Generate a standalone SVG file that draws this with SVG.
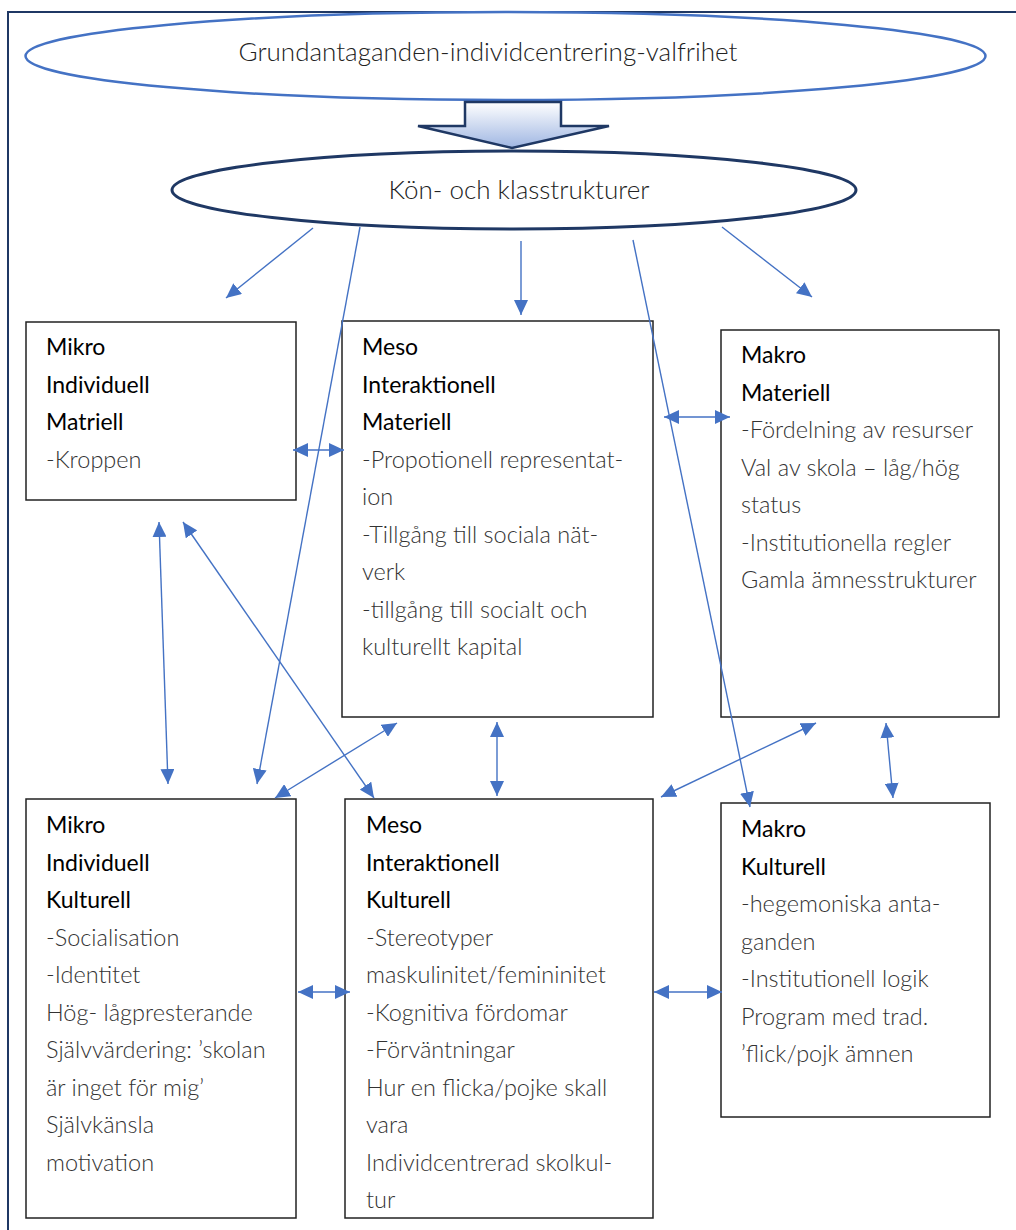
<svg xmlns="http://www.w3.org/2000/svg" width="1016" height="1230" viewBox="0 0 1016 1230">
<style>
.frame{fill:none;stroke:#1f3864;stroke-width:2}
.box{fill:#fff;stroke:#222;stroke-width:1.5}
.t{font-family:Lato,"Open Sans",sans-serif;font-size:23px;fill:#000;font-weight:400}
.b{font-family:Lato,"Open Sans",sans-serif;font-size:23.5px;fill:#333;font-weight:300}
.et{font-family:Lato,"Open Sans",sans-serif;font-size:26px;fill:#222;font-weight:300}
.c{stroke:#4472c4;stroke-width:1.4;fill:none}
.c1{marker-end:url(#ah)}
.c2{marker-start:url(#ah);marker-end:url(#ah)}
</style>
<defs>
<marker id="ah" markerUnits="userSpaceOnUse" markerWidth="15" markerHeight="14" refX="15" refY="7" orient="auto-start-reverse" viewBox="0 0 15 14">
<path d="M0,0 L15,7 L0,14 z" fill="#4472c4"/>
</marker>
<linearGradient id="bg" x1="0" y1="0" x2="0" y2="1">
<stop offset="0" stop-color="#ffffff"/>
<stop offset="1" stop-color="#9fb6e2"/>
</linearGradient>
</defs>
<rect width="1016" height="1230" fill="#fff"/>
<path class="frame" d="M8,1230 L8,12 L1016,12"/>

<g id="top-ellipse">
<ellipse cx="505.5" cy="56" rx="480" ry="44" fill="#fff" stroke="#4472c4" stroke-width="2.5"/>
<text class="et" x="488" y="61" text-anchor="middle">Grundantaganden-individcentrering-valfrihet</text>
</g>
<g id="block-arrow">
<path d="M465,102 L561,102 L561,126 L609,126 L512,148 L418,126 L465,126 Z" fill="url(#bg)" stroke="#1f3864" stroke-width="2.5" stroke-linejoin="miter"/>
</g>
<g id="kon-ellipse">
<ellipse cx="514" cy="190" rx="342" ry="39" fill="#fff" stroke="#1f3864" stroke-width="3"/>
<text class="et" x="519" y="199" text-anchor="middle">Kön- och klasstrukturer</text>
</g>

<g id="mikro-materiell">
<rect class="box" x="26" y="322" width="270" height="178"/>
<text class="t" x="46" y="355">Mikro</text>
<text class="t" x="46" y="392.5">Individuell</text>
<text class="t" x="46" y="430">Matriell</text>
<text class="b" x="46" y="467.5">-Kroppen</text>
</g>
<g id="meso-materiell">
<rect class="box" x="342" y="321" width="311" height="396"/>
<text class="t" x="362" y="355">Meso</text>
<text class="t" x="362" y="392.5">Interaktionell</text>
<text class="t" x="362" y="430">Materiell</text>
<text class="b" x="362" y="467.5">-Propotionell representat-</text>
<text class="b" x="362" y="505">ion</text>
<text class="b" x="362" y="542.5">-Tillgång till sociala nät-</text>
<text class="b" x="362" y="580">verk</text>
<text class="b" x="362" y="617.5">-tillgång till socialt och</text>
<text class="b" x="362" y="655">kulturellt kapital</text>
</g>
<g id="makro-materiell">
<rect class="box" x="721" y="330" width="278" height="387"/>
<text class="t" x="741" y="363">Makro</text>
<text class="t" x="741" y="400.5">Materiell</text>
<text class="b" x="741" y="438">-Fördelning av resurser</text>
<text class="b" x="741" y="475.5">Val av skola – låg/hög</text>
<text class="b" x="741" y="513">status</text>
<text class="b" x="741" y="550.5">-Institutionella regler</text>
<text class="b" x="741" y="588">Gamla ämnesstrukturer</text>
</g>
<g id="mikro-kulturell">
<rect class="box" x="26" y="799" width="270" height="419"/>
<text class="t" x="46" y="833">Mikro</text>
<text class="t" x="46" y="870.5">Individuell</text>
<text class="t" x="46" y="908">Kulturell</text>
<text class="b" x="46" y="945.5">-Socialisation</text>
<text class="b" x="46" y="983">-Identitet</text>
<text class="b" x="46" y="1020.5">Hög- lågpresterande</text>
<text class="b" x="46" y="1058">Självvärdering: ’skolan</text>
<text class="b" x="46" y="1095.5">är inget för mig’</text>
<text class="b" x="46" y="1133">Självkänsla</text>
<text class="b" x="46" y="1170.5">motivation</text>
</g>
<g id="meso-kulturell">
<rect class="box" x="345" y="799" width="308" height="419"/>
<text class="t" x="366" y="833">Meso</text>
<text class="t" x="366" y="870.5">Interaktionell</text>
<text class="t" x="366" y="908">Kulturell</text>
<text class="b" x="366" y="945.5">-Stereotyper</text>
<text class="b" x="366" y="983">maskulinitet/femininitet</text>
<text class="b" x="366" y="1020.5">-Kognitiva fördomar</text>
<text class="b" x="366" y="1058">-Förväntningar</text>
<text class="b" x="366" y="1095.5">Hur en flicka/pojke skall</text>
<text class="b" x="366" y="1133">vara</text>
<text class="b" x="366" y="1170.5">Individcentrerad skolkul-</text>
<text class="b" x="366" y="1208">tur</text>
</g>
<g id="makro-kulturell">
<rect class="box" x="721" y="803" width="269" height="314"/>
<text class="t" x="741" y="837">Makro</text>
<text class="t" x="741" y="874.5">Kulturell</text>
<text class="b" x="741" y="912">-hegemoniska anta-</text>
<text class="b" x="741" y="949.5">ganden</text>
<text class="b" x="741" y="987">-Institutionell logik</text>
<text class="b" x="741" y="1024.5">Program med trad.</text>
<text class="b" x="741" y="1062">’flick/pojk ämnen</text>
</g>

<g id="connectors">
<line class="c c1" x1="313" y1="228" x2="226" y2="298"/>
<line class="c c1" x1="360" y1="227" x2="257" y2="784"/>
<line class="c c1" x1="521" y1="241" x2="521" y2="315"/>
<line class="c c1" x1="633" y1="240" x2="750" y2="807"/>
<line class="c c1" x1="722" y1="227" x2="812" y2="297"/>
<line class="c c2" x1="293" y1="450" x2="344" y2="450"/>
<line class="c c2" x1="664" y1="417" x2="730" y2="417"/>
<line class="c c2" x1="159" y1="522" x2="168" y2="784"/>
<line class="c c2" x1="183" y1="522" x2="374" y2="798"/>
<line class="c c2" x1="275" y1="798" x2="397" y2="723"/>
<line class="c c2" x1="497" y1="722" x2="497" y2="796"/>
<line class="c c2" x1="661" y1="797" x2="816" y2="723"/>
<line class="c c2" x1="886" y1="723" x2="893" y2="798"/>
<line class="c c2" x1="298" y1="992" x2="350" y2="992"/>
<line class="c c2" x1="654" y1="992" x2="722" y2="992"/>
</g>
</svg>
